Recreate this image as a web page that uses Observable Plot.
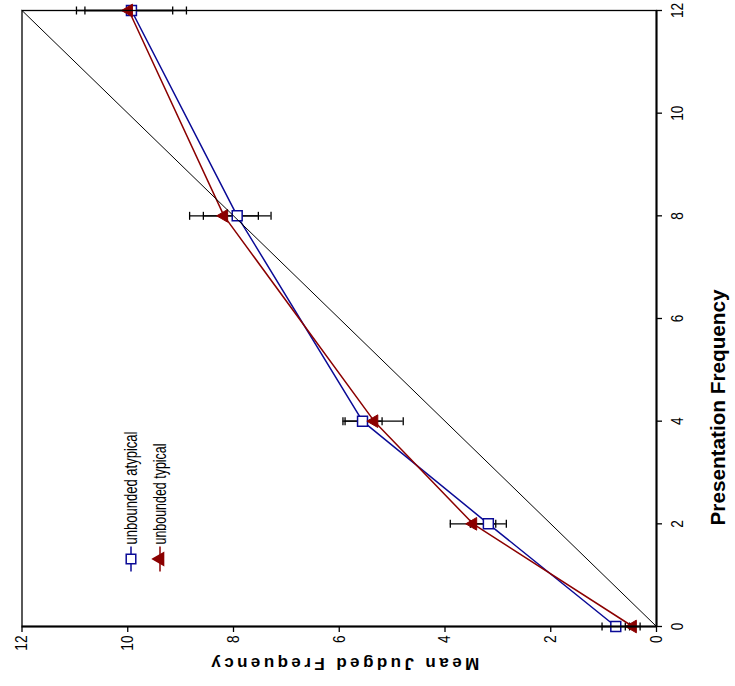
<!DOCTYPE html>
<html>
<head>
<meta charset="utf-8">
<script src="https://cdn.jsdelivr.net/npm/d3@7"></script>
<script src="https://cdn.jsdelivr.net/npm/@observablehq/plot@0.6"></script>
<style>
  html, body { margin: 0; padding: 0; background: #fff; }
  body { width: 735px; height: 686px; overflow: hidden; position: relative; }
  #wrap { position: absolute; left: 0; top: 0; width: 686px; height: 735px;
          transform-origin: 0 0; transform: translate(0px, 686px) rotate(-90deg); }
</style>
</head>
<body>
<div id="wrap"></div>
<script>
// ---- data ----
const presentation = [0, 2, 4, 8, 12];
const atypicalMean = [0.77, 3.18, 5.56, 7.93, 9.93];
const atypicalErr  = [0.26, 0.34, 0.37, 0.64, 1.04];
const typicalMean  = [0.45, 3.47, 5.34, 8.18, 9.98];
const typicalErr   = [0.14, 0.43, 0.55, 0.65, 0.83];
const xTicks = [0, 2, 4, 6, 8, 10, 12];
const yTicks = [0, 2, 4, 6, 8, 10, 12];
const identity = [0, 12];
const seriesNames = ["unbounded atypical", "unbounded typical"];
const xLabel = "Presentation Frequency";
const yLabel = "Mean Judged Frequency";

const blue = "#0a0a96";
const red = "#8b0000";
const FONT = "'Liberation Sans', Arial, Helvetica, sans-serif";

const atyp = presentation.map((x, i) => ({x, y: atypicalMean[i], e: atypicalErr[i]}));
const typ  = presentation.map((x, i) => ({x, y: typicalMean[i], e: typicalErr[i]}));

const hline = {draw(ctx, size) { const r = Math.sqrt(size / Math.PI); ctx.moveTo(-r, 0); ctx.lineTo(r, 0); }};

const legendRows = [
  {name: seriesNames[0], color: blue, symbol: "square", fill: "white", r: 5.4, dy: 109, len: 113},
  {name: seriesNames[1], color: red, symbol: "triangle", fill: red, r: 4.6, dy: 138, len: 101}
];

const marks = [];
// error bars
for (const s of [atyp, typ]) {
  marks.push(Plot.ruleX(s, {x: "x", y1: d => d.y - d.e, y2: d => d.y + d.e, stroke: "black", strokeWidth: 1.3}));
  marks.push(Plot.dot(s, {x: "x", y: d => d.y - d.e, symbol: hline, r: 4, stroke: "black", fill: "none", strokeWidth: 1.3}));
  marks.push(Plot.dot(s, {x: "x", y: d => d.y + d.e, symbol: hline, r: 4, stroke: "black", fill: "none", strokeWidth: 1.3}));
}
marks.push(
  Plot.line(atyp, {x: "x", y: "y", stroke: blue, strokeWidth: 1.5}),
  Plot.line(typ, {x: "x", y: "y", stroke: red, strokeWidth: 1.5}),
  Plot.dot(atyp, {x: "x", y: "y", symbol: "square", r: 5.6, stroke: blue, fill: "white", strokeWidth: 1.5}),
  Plot.dot(typ, {x: "x", y: "y", symbol: "triangle", r: 4.7, stroke: red, fill: red, strokeWidth: 1}),
  Plot.line(identity, {x: d => d, y: d => d, stroke: "black", strokeWidth: 1}),
  Plot.frame({stroke: "black", strokeWidth: 1.3}),
  Plot.ruleY([0], {stroke: "black", strokeWidth: 2}),
  Plot.ruleX([0], {stroke: "black", strokeWidth: 2}),
  Plot.axisX({ticks: xTicks, tickSize: 6, tickPadding: 8, label: null, fontSize: 17, stroke: "black", strokeWidth: 1.3}),
  Plot.axisY({ticks: yTicks, tickSize: 5, tickPadding: 4, label: null, fontSize: 17, stroke: "black", strokeWidth: 1.3}),
  Plot.text([xLabel], {frameAnchor: "bottom", dx: -89, dy: 62, text: d => d, fontSize: 20, fontWeight: "bold", textAnchor: "middle", lineAnchor: "middle"}),
  Plot.text([yLabel], {frameAnchor: "left", dx: -37, dy: 6, text: d => d, rotate: -90, fontSize: 17, fontWeight: "bold", textAnchor: "middle", lineAnchor: "middle"})
);
// legend
for (const row of legendRows) {
  marks.push(Plot.dot([row.name], {frameAnchor: "top-left", dx: 67.5, dy: row.dy, symbol: hline, r: 12.5, stroke: row.color, fill: "none", strokeWidth: 1.5}));
  marks.push(Plot.dot([row.name], {frameAnchor: "top-left", dx: 67.5, dy: row.dy, symbol: row.symbol, r: row.r, stroke: row.color, fill: row.fill, strokeWidth: 1.5}));
  marks.push(Plot.text([row.name], {frameAnchor: "top-left", dx: 82, dy: row.dy, text: d => d, textAnchor: "start", lineAnchor: "middle", fontSize: 18}));
}

const chart = Plot.plot({
  width: 686,
  height: 735,
  marginLeft: 59,
  marginRight: 11,
  marginTop: 21.5,
  marginBottom: 79,
  style: {fontFamily: FONT, fontSize: "17px", color: "black", background: "white", overflow: "visible"},
  x: {domain: [0, 12]},
  y: {domain: [0, 12]},
  marks
});

const sel = d3.select(chart);
function fit(label, len, adjust) {
  sel.selectAll("text").filter(function () { return this.textContent === label; })
    .attr("textLength", len).attr("lengthAdjust", adjust);
}
fit(xLabel, 236, "spacingAndGlyphs");
fit(yLabel, 268, "spacing");
for (const row of legendRows) fit(row.name, row.len, "spacingAndGlyphs");
// condensed digits for tick labels
sel.selectAll("g[aria-label$='tick label'] text").each(function () {
  const t = this.textContent;
  d3.select(this).attr("textLength", t.length * 7.6).attr("lengthAdjust", "spacingAndGlyphs");
});

document.getElementById("wrap").appendChild(chart);
</script>
</body>
</html>
